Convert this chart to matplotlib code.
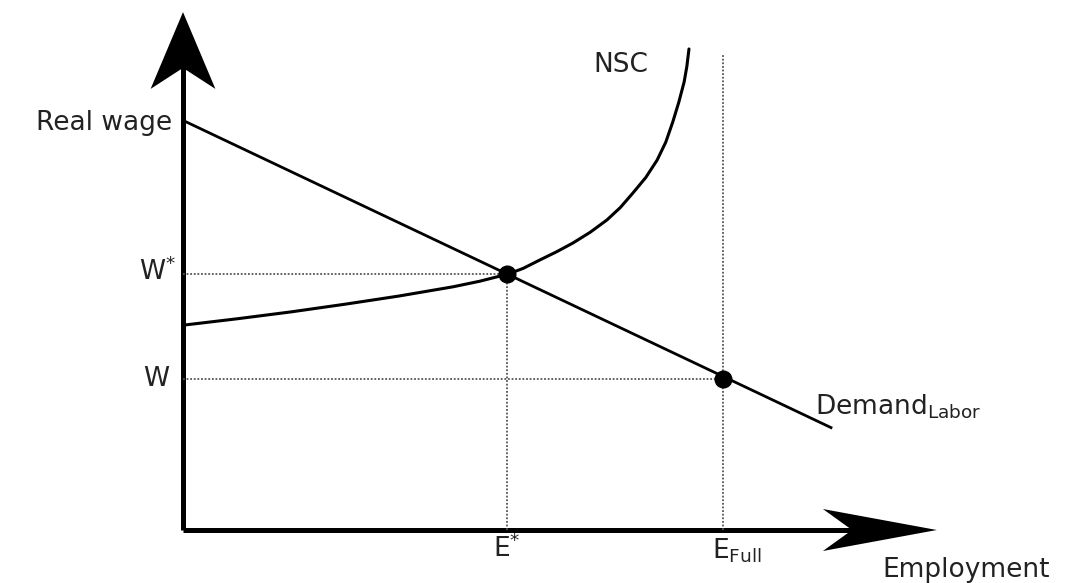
import matplotlib.pyplot as plt
import numpy as np

# curves, in (employment, real wage) units
demand_x = [0, 12]
demand_y = [16, 4]

nsc_x = [0, 1.0, 2.0, 3.0, 4.0, 5.0, 5.5, 6.02, 6.3, 6.61, 6.92, 7.22, 7.54,
         7.85, 8.1, 8.33, 8.57, 8.78, 8.94, 9.07, 9.18, 9.28, 9.33, 9.37]
nsc_y = [8.0, 8.25, 8.52, 8.82, 9.14, 9.5, 9.72, 10.0, 10.22, 10.55, 10.87, 11.21, 11.63,
         12.11, 12.6, 13.16, 13.77, 14.45, 15.15, 15.94, 16.7, 17.5, 18.1, 18.79]

# marked points
e_star, w_star = 6.0, 10.0
e_full, w_low = 10.0, 5.9
e_full_top = 18.6

x_tip, y_tip = 13.96, 20.23

fig = plt.figure(figsize=(10.78, 5.83), dpi=100)
ax = fig.add_axes([0, 0, 1, 1])
ax.set_xlim(-3.389, 16.574)
ax.set_ylim(-2.070, 20.703)
ax.axis('off')

# axes with stealth-like arrow heads
ax.plot([0, 0], [0, 18.1], color='black', lw=3.6, solid_capstyle='butt')
ax.plot([0, 12.4], [0, 0], color='black', lw=3.6, solid_capstyle='butt')
ax.fill([0, 0.6, 0, -0.6], [y_tip, 17.23, 18.05, 17.23], color='black', lw=0)
ax.fill([x_tip, 11.85, 12.39, 11.85], [0, 0.82, 0, -0.82], color='black', lw=0)

# guide lines
dot = dict(color='#555555', lw=1.3, ls=(0, (1, 1)))
ax.plot([0, e_star], [w_star, w_star], **dot)
ax.plot([e_star, e_star], [0, w_star], **dot)
ax.plot([0, e_full], [w_low, w_low], **dot)
ax.plot([e_full, e_full], [0, e_full_top], **dot)

# curves
ax.plot(demand_x, demand_y, color='black', lw=2.0)
ax.plot(nsc_x, nsc_y, color='black', lw=2.2, solid_capstyle='round', solid_joinstyle='round')

ax.plot([e_star, e_full], [w_star, w_low], 'o', color='black', ms=12)

fs = 19
c = '#222222'
ax.text(-0.2, 15.9, 'Real wage', ha='right', va='center', fontsize=fs, color=c)
ax.text(-0.12, 10.1, r'W$^{*}$', ha='right', va='center', fontsize=fs, color=c)
ax.text(-0.25, 5.9, 'W', ha='right', va='center', fontsize=fs, color=c)
ax.text(e_star, -0.75, r'E$^{*}$', ha='center', va='center', fontsize=fs, color=c)
ax.text(e_full - 0.2, -0.8, r'E$_{\mathrm{Full}}$', ha='left', va='center', fontsize=fs, color=c)
ax.text(12.95, -1.56, 'Employment', ha='left', va='center', fontsize=fs, color=c)
ax.text(7.6, 18.16, 'NSC', ha='left', va='center', fontsize=fs, color=c)
ax.text(11.7, 4.8, r'Demand$_{\mathrm{Labor}}$', ha='left', va='center', fontsize=fs, color=c)

fig.savefig('out.png', dpi=100)
